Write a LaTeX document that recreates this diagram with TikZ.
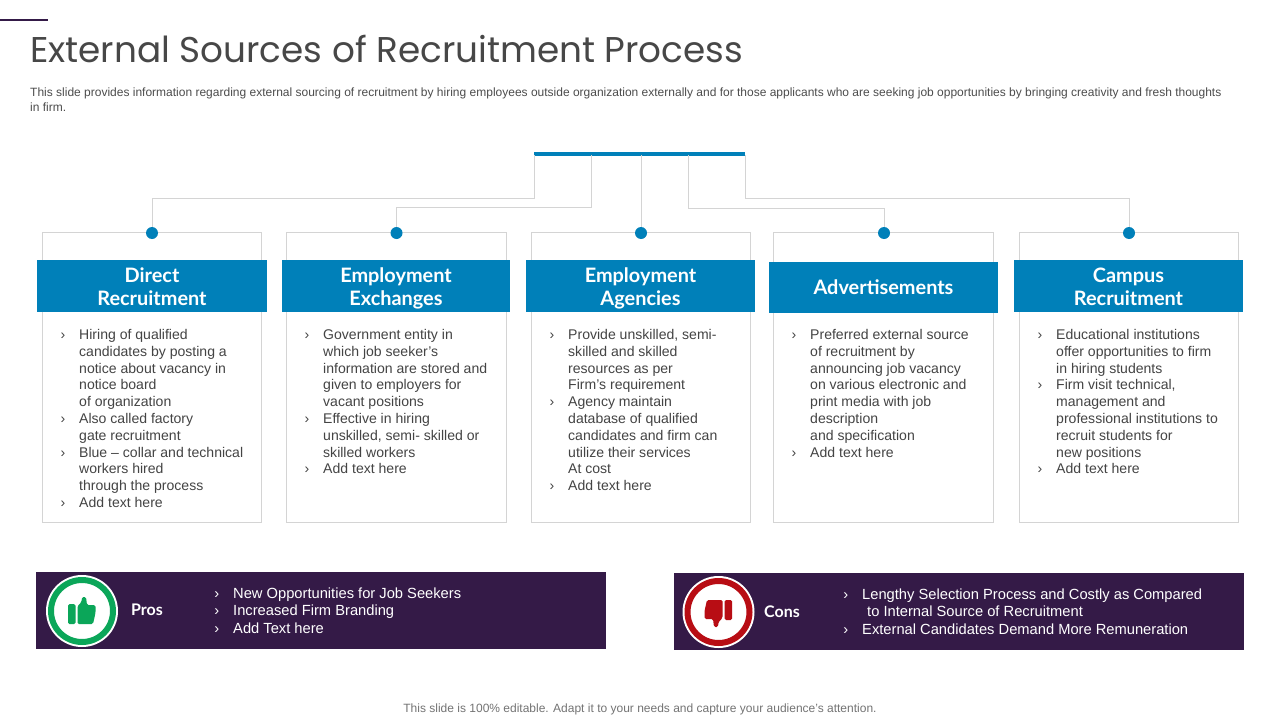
\documentclass[tikz,border=0pt]{standalone}
\usepackage{fontspec}
\setmainfont{Liberation Sans}
\newfontfamily\titlefont{Poppins}
\newfontfamily\headfont{Lato}
\usetikzlibrary{positioning,calc}

\definecolor{barblue}{HTML}{0080B9}
\definecolor{linegray}{HTML}{D4D4D4}
\definecolor{bandpurple}{HTML}{341A47}
\definecolor{bodygray}{HTML}{444444}
\definecolor{thumbgreen}{HTML}{0BA659}
\definecolor{thumbred}{HTML}{B80D14}

\newcommand{\itm}{\strut\makebox[0pt][r]{›\hspace{14pt}}}
\newcommand{\hdtop}{\rule{0pt}{22pt}}
\newcommand{\hdbot}{\rule[-7pt]{0pt}{7pt}}

\tikzset{
	card/.style={draw=linegray,line width=0.8pt,fill=white,minimum width=219.5pt,minimum height=290pt,inner sep=0},
	headbox/.style={fill=barblue,text=white,minimum width=229pt,minimum height=52pt,inner sep=0,align=center,
		font=\headfont\bfseries\fontsize{19.9}{23}\selectfont},
	pin/.style={circle,fill=barblue,minimum size=12pt,inner sep=0},
	link/.style={draw=linegray,line width=0.8pt},
	bodytext/.style={anchor=north west,inner sep=0,align=left,text=bodygray,font=\fontsize{14.05}{16.8}\selectfont},
	band/.style={fill=bandpurple,minimum width=570pt,minimum height=77pt,inner sep=0},
	bandtext/.style={anchor=north west,inner sep=0,align=left,text=white,font=\fontsize{14.7}{17.6}\selectfont},
	bandtitle/.style={anchor=west,inner sep=0,text=white,font=\headfont\bfseries\fontsize{16}{20}\selectfont},
	halo/.style={circle,fill=white,minimum size=72pt,inner sep=0},
	ring/.style={circle,fill=white,line width=6pt,minimum size=62pt,inner sep=0},
	thumb/.pic={
		\fill[rounded corners=1.5pt] (-14,-7) rectangle (-6.5,13);
		\fill[rounded corners=1.5pt] (-4.5,13) -- (-4.5,-5) -- (-0.5,-9) -- (0,-14) -- (4,-14) -- (5,-6) -- (13.5,-6) -- (13.5,2) -- (11,13) -- cycle;
	}
}

\begin{document}
\begin{tikzpicture}[x=1pt,y=-1pt]
	\useasboundingbox (0,0) rectangle (1280,720);

	% heading
	\node[fill=bandpurple,minimum width=48pt,minimum height=2.6pt,inner sep=0,anchor=west] (accent) at (0,20) {};
	\node[anchor=west,inner sep=0,text=black!72,font=\titlefont\fontsize{35.8}{40}\selectfont] (title) at (30,48.5) {External Sources of Recruitment Process};
	\node[anchor=north west,inner sep=0,align=left,text=black!70,font=\fontsize{12}{14.8}\selectfont] (intro) at (30,86)
		{\strut This slide provides information regarding external sourcing of recruitment by hiring employees outside organization externally and for those applicants who are seeking job opportunities by bringing creativity and fresh thoughts\\ in firm.};

	% top bar
	\node[fill=barblue,minimum width=211pt,minimum height=4pt,inner sep=0] (topbar) at (639.5,154) {};
	\coordinate (B1) at (534,155);
	\coordinate (B2) at (591.5,155);
	\coordinate (B3) at (641,155);
	\coordinate (B4) at (688.5,155);
	\coordinate (B5) at (745,155);

	% cards
	\node[card] (C1) at (152,377) {};
	\node[card,minimum width=220.5pt] (C2) at (396.5,377) {};
	\node[card] (C3) at (641,377) {};
	\node[card,minimum width=220.5pt] (C4) at (883.5,377) {};
	\node[card] (C5) at (1129,377) {};

	\node[headbox,minimum width=230pt] (H1) at (152,286) {\hdtop Direct\\Recruitment\hdbot};
	\node[headbox,minimum width=228pt] (H2) at (396,286) {\hdtop Employment\\Exchanges\hdbot};
	\node[headbox] (H3) at (640.5,286) {\hdtop Employment\\Agencies\hdbot};
	\node[headbox,minimum height=51pt] (H4) at (883.5,287.5) {Advertisements};
	\node[headbox] (H5) at (1128.5,286) {\hdtop Campus\\Recruitment\hdbot};

	\node[pin] (D1) at (152,233) {};
	\node[pin] (D2) at (396.5,233) {};
	\node[pin] (D3) at (641,233) {};
	\node[pin] (D4) at (884,233) {};
	\node[pin] (D5) at (1129,233) {};

	\draw[link] (B1) -- ++(0,43) -| (D1);
	\draw[link] (B2) -- ++(0,52.5) -| (D2);
	\draw[link] (B3) -- (D3);
	\draw[link] (B4) -- ++(0,53.5) -| (D4);
	\draw[link] (B5) -- ++(0,43) -| (D5);

	% card texts
	\node[bodytext] (T1) at (79,327.5) {\itm Hiring of qualified\\candidates by posting a\\notice about vacancy in\\notice board\\of organization\\\itm Also called factory\\gate recruitment\\\itm Blue -- collar and technical\\workers hired\\through the process\\\itm Add text here};
	\node[bodytext] (T2) at (323,327.5) {\itm Government entity in\\which job seeker’s\\information are stored and\\given to employers for\\vacant positions\\\itm Effective in hiring\\unskilled, semi- skilled or\\skilled workers\\\itm Add text here};
	\node[bodytext] (T3) at (568,327.5) {\itm Provide unskilled, semi-\\skilled and skilled\\resources as per\\Firm’s requirement\\\itm Agency maintain\\database of qualified\\candidates and firm can\\utilize their services\\At cost\\\itm Add text here};
	\node[bodytext] (T4) at (810,327.5) {\itm Preferred external source\\of recruitment by\\announcing job vacancy\\on various electronic and\\print media with job\\description\\and specification\\\itm Add text here};
	\node[bodytext] (T5) at (1056,327.5) {\itm Educational institutions\\offer opportunities to firm\\in hiring students\\\itm Firm visit technical,\\management and\\professional institutions to\\recruit students for\\new positions\\\itm Add text here};

	% pros and cons
	\node[band] (pros) at (321,610.5) {};
	\node[band] (cons) at (959,611.5) {};

	\node[halo] (P0) at (82,611) {};
	\node[ring,draw=thumbgreen] (P1) at (82,611) {};
	\pic[fill=thumbgreen] at (82,611) {thumb};
	\node[bandtitle] (prolabel) at (131,610) {Pros};
	\node[bandtext] (protext) at (233,585.5) {\itm New Opportunities for Job Seekers\\\itm Increased Firm Branding\\\itm Add Text here};

	\node[halo] (N0) at (718.5,612) {};
	\node[ring,draw=thumbred] (N1) at (718.5,612) {};
	\pic[fill=thumbred,rotate=180] at (718,613) {thumb};
	\node[bandtitle] (conlabel) at (764,612) {Cons};
	\node[bandtext] (context) at (862,586.5) {\itm Lengthy Selection Process and Costly as Compared\\\hspace{5pt}to Internal Source of Recruitment\\\itm External Candidates Demand More Remuneration};

	\node[inner sep=0,text=black!55,font=\fontsize{12}{14}\selectfont] (footer) at (640,709) {This slide is 100\% editable. Adapt it to your needs and capture your audience’s attention.};
\end{tikzpicture}
\end{document}
